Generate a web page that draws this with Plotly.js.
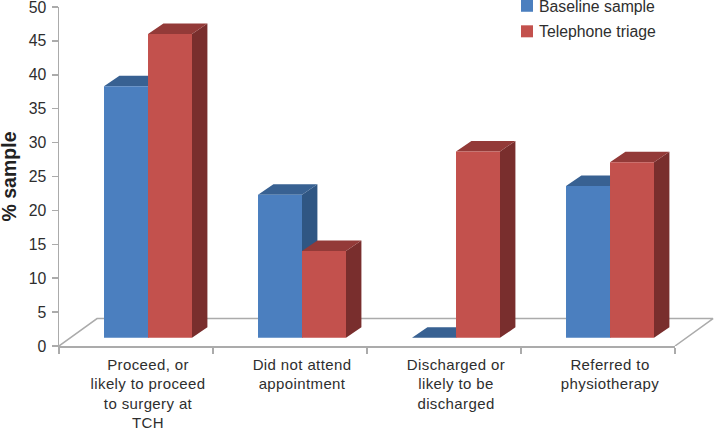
<!DOCTYPE html>
<html>
<head>
<meta charset="utf-8">
<script src="https://cdn.plot.ly/plotly-3.0.1.min.js"></script>
<style>html,body{margin:0;padding:0;background:#fff}
.legend{transform:translate(499px,-11px)}
.legend .legendsymbols{transform:translate(8px,0)}
.x2tick text{letter-spacing:.38px}
.g-y2title{transform:translate(6px,0)}
</style>
</head>
<body>
<div id="chart" style="width:714px;height:429px"></div>
<script>
const categories = ["Proceed, or<br>likely to proceed<br>to surgery at<br>TCH","Did not attend<br>appointment","Discharged or<br>likely to be<br>discharged","Referred to<br>physiotherapy"];
const baseline = [37.1, 21.1, 0, 22.4];
const triage = [44.8, 12.8, 27.5, 25.9];
const seriesNames = ["Baseline sample", "Telephone triage"];
const yTicks = [0,5,10,15,20,25,30,35,40,45,50];
const catEdges = [0,1,2,3,4];

const groupShift = 0.578, barW = 0.2857, barFloor = 1.2;
const depthX = 0.1, depthY = 1.55, floorX = 0.247, floorY = 4.04;
const fullRange = 655/154, axisDomain = 616/655;
const centers = categories.map((c,i)=>i+groupShift);

function faces(vals, left){
  const side={x:[],y:[]}, top={x:[],y:[]};
  vals.forEach((v,i)=>{
    const l=centers[i]+left, r=l+barW, t=v+barFloor, b=barFloor;
    top.x.push(l,l+depthX,r+depthX,r,l,null); top.y.push(t,t+depthY,t+depthY,t,t,null);
    if(v>0){ side.x.push(r,r+depthX,r+depthX,r,r,null); side.y.push(t,t+depthY,b+depthY,b,t,null); }
  });
  return {side,top};
}
function poly(f,color){return {x:f.x,y:f.y,type:'scatter',mode:'lines',fill:'toself',fillcolor:color,line:{width:0,color:color},showlegend:false,hoverinfo:'skip',xaxis:'x2',yaxis:'y2'};}
const bf=faces(baseline,-barW), tf=faces(triage,0);
const floor={x:[0,floorX,4+floorX,4],y:[0,floorY,floorY,0],type:'scatter',mode:'lines',line:{color:'#ababab',width:1.5},showlegend:false,hoverinfo:'skip',xaxis:'x',yaxis:'y'};
const traces=[floor,
  poly(bf.side,'#2f5683'),poly(bf.top,'#386192'),
  poly(tf.side,'#792e2d'),poly(tf.top,'#933a38'),
  {type:'bar',name:seriesNames[0],x:centers,y:baseline,base:barFloor,marker:{color:'#4b7fbf',line:{width:0}},xaxis:'x3',yaxis:'y3',legendgroup:'a'},
  {type:'bar',name:seriesNames[1],x:centers,y:triage,base:barFloor,marker:{color:'#c3514d',line:{width:0}},xaxis:'x3',yaxis:'y3',legendgroup:'b'}
];
const font={family:'"Liberation Sans",Arial,sans-serif',size:15,color:'#2e2e2e'};
const layout={
  width:714,height:429,margin:{l:59,r:0,t:7,b:82.5,pad:0,autoexpand:false},
  paper_bgcolor:'#fff',plot_bgcolor:'rgba(0,0,0,0)',font:font,
  barmode:'group',bargap:1-2*barW,bargroupgap:0,
  xaxis:{range:[0,fullRange],domain:[0,1],visible:false,fixedrange:true},
  yaxis:{range:[0,50],visible:false,fixedrange:true},
  xaxis2:{domain:[0,axisDomain],anchor:'y2',range:[0,4],tickmode:'array',tickvals:centers,ticktext:categories,ticks:'',showgrid:false,zeroline:false,showline:true,linecolor:'#ababab',linewidth:1.5,
    tickfont:{size:15,color:'#2e2e2e'},ticklabelstandoff:4,tickangle:0,
    minor:{tickmode:'array',tickvals:catEdges,ticks:'outside',ticklen:6,tickwidth:1.5,tickcolor:'#ababab',showgrid:false}},
  yaxis2:{anchor:'x2',range:[0,50],tickmode:'array',tickvals:yTicks,ticks:'outside',ticklen:6,tickwidth:1.5,tickcolor:'#ababab',showgrid:false,zeroline:false,showline:true,linecolor:'#ababab',linewidth:1.5,
    tickfont:{size:15.8,color:'#2e2e2e'},ticklabelstandoff:2,ticklabeloverflow:'allow',title:{text:'% sample',font:{size:19.5,color:'#222',family:font.family,weight:'bold'}}},
  xaxis3:{range:[0,4],overlaying:'x2',visible:false,fixedrange:true},
  yaxis3:{range:[0,50],overlaying:'y2',visible:false,fixedrange:true},
  legend:{xref:'paper',yref:'paper',x:(499-59)/655,y:1,yanchor:'top',font:{size:15.8},traceorder:'grouped',tracegroupgap:2,bgcolor:'rgba(0,0,0,0)'},
  showlegend:true
};
Plotly.newPlot('chart',traces,layout,{displayModeBar:false,staticPlot:true});
</script>
</body>
</html>
